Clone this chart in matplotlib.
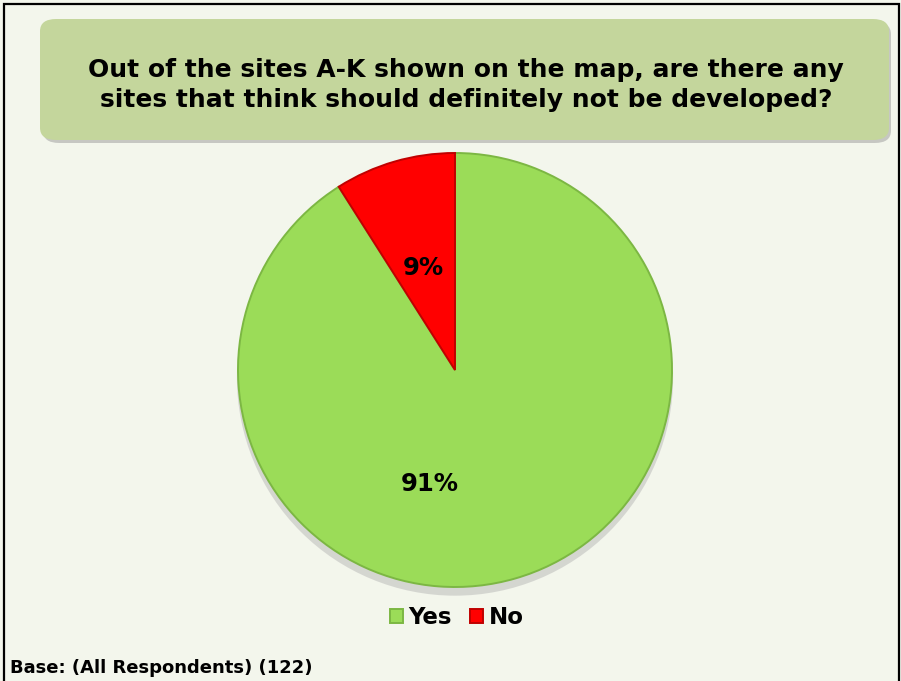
import matplotlib.pyplot as plt
from matplotlib.patches import FancyBboxPatch, Rectangle, Ellipse

# Survey answers
labels = ["Yes", "No"]
values = [91, 9]
colors = ["#9bdc58", "#ff0000"]
edge_colors = ["#7cb743", "#c00000"]

title = "Out of the sites A-K shown on the map, are there any\nsites that think should definitely not be developed?"
base_note = "Base: (All Respondents) (122)"

W, H = 901, 681
fig = plt.figure(figsize=(W / 100, H / 100), dpi=100)
fig.patch.set_facecolor("#f3f6ec")

# outer frame
fig.patches.append(Rectangle((4 / W, -0.01), 895 / W, 1 - 4 / H + 0.01,
                             transform=fig.transFigure, fill=False,
                             edgecolor="black", lw=1.6))

# title box with shadow
fig.patches.append(FancyBboxPatch((43 / W, 1 - 143 / H), 848 / W, 121 / H,
                                  boxstyle="round,pad=0,rounding_size=0.018",
                                  transform=fig.transFigure, facecolor="#9a9a9a",
                                  edgecolor="none", alpha=0.5))
fig.patches.append(FancyBboxPatch((40 / W, 1 - 140 / H), 849 / W, 121 / H,
                                  boxstyle="round,pad=0,rounding_size=0.018",
                                  transform=fig.transFigure, facecolor="#c4d69c",
                                  edgecolor="none"))
fig.text(466 / W, 1 - 85 / H, title, ha="center", va="center",
         fontsize=18, fontweight="bold", linespacing=1.3)

ax = fig.add_axes([238 / W, 94 / H, 434 / W, 434 / H])
ax.set_facecolor("none")

# soft shadow under the pie
ax.add_patch(Ellipse((0.0, -0.035), 2.01, 2.01, facecolor="#b0b0b0",
                     edgecolor="none", alpha=0.45, zorder=0, clip_on=False))

wedges, texts = ax.pie(values, colors=colors, startangle=90, counterclock=False,
                       radius=1, wedgeprops=dict(linewidth=1.4))
for w, ec in zip(wedges, edge_colors):
    w.set_edgecolor(ec)
    w.set_zorder(2)
    w.set_clip_on(False)

# percentage labels placed like the original
label_pos = [(-0.115, -0.525), (-0.147, 0.47)]
for v, (lx, ly) in zip(values, label_pos):
    ax.text(lx, ly, f"{v}%", ha="center", va="center", fontsize=17.5,
            fontweight="bold", zorder=3)

ax.set_xlim(-1, 1)
ax.set_ylim(-1, 1)
ax.set_aspect("equal")
ax.axis("off")

leg = fig.legend(wedges, labels, loc="center", bbox_to_anchor=(457 / W, 1 - 618 / H),
                 ncol=2, frameon=False, prop=dict(size=16.5, weight="bold"),
                 handlelength=0.55, handleheight=0.55, handletextpad=0.25,
                 columnspacing=0.8)

fig.text(10 / W, 1 - 668 / H, base_note, ha="left", va="center",
         fontsize=13, fontweight="bold")

fig.savefig("out.png", dpi=100, facecolor=fig.get_facecolor())
